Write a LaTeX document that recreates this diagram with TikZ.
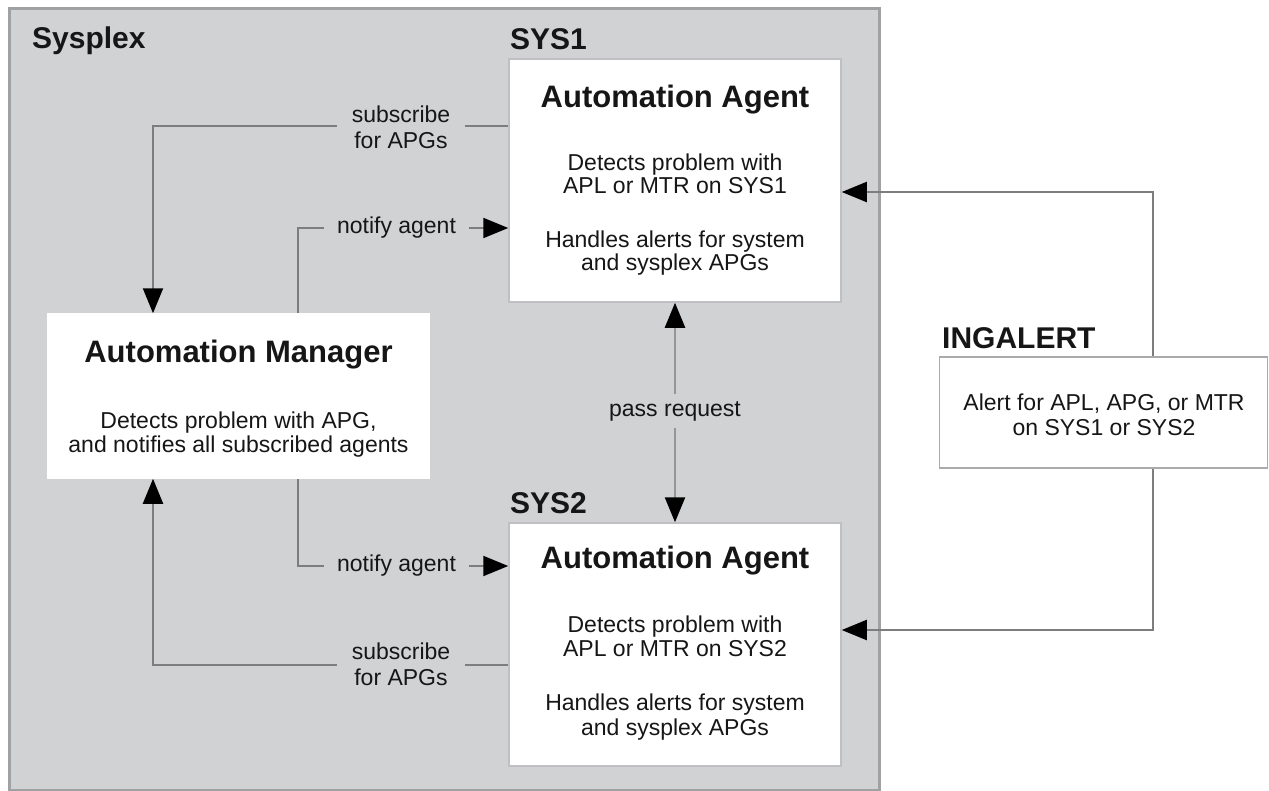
\documentclass[tikz,border=0pt]{standalone}
\usepackage{fontspec}
\setmainfont{Liberation Sans}
\usetikzlibrary{arrows.meta}
\definecolor{plexfill}{RGB}{209,210,212}
\definecolor{plexline}{RGB}{160,161,163}
\definecolor{conncol}{RGB}{125,125,125}
\definecolor{passcol}{RGB}{150,150,152}
\definecolor{txt}{RGB}{22,22,22}
\definecolor{boxline}{RGB}{192,192,194}
\definecolor{ingline}{RGB}{170,170,172}
\begin{document}
\begin{tikzpicture}[x=1pt,y=-1pt,
  >={Triangle[length=25pt,width=20pt,color=black]},
  box/.style={draw=boxline, line width=1.5pt, fill=white, inner sep=0pt},
  head/.style={font=\fontsize{30}{30}\selectfont\bfseries, text=txt, anchor=base west, inner sep=0pt},
  title/.style={font=\fontsize{31}{31}\selectfont\bfseries, text=txt, anchor=base, inner sep=0pt},
  body/.style={font=\fontsize{23}{25}\selectfont, text=txt, anchor=base, inner sep=0pt},
  conn/.style={draw=conncol, line width=2pt},
  lbl/.style={font=\fontsize{23}{26}\selectfont, text=txt, fill=plexfill, align=center, inner xsep=13pt, inner ysep=4pt}
]
\useasboundingbox (0,0) rectangle (1269,790);
\fill[white] (0,0) rectangle (1269,790);

% Sysplex container
\node[draw=plexline, line width=3pt, fill=plexfill, minimum width=870pt, minimum height=782pt,
      anchor=north west, inner sep=0pt] (plex) at (8,7) {};

% boxes
\node[box, minimum width=332pt, minimum height=243pt] (sys1) at (675,180.5) {};
\node[box, minimum width=332pt, minimum height=243pt] (sys2) at (675,644.5) {};
\node[box, draw=white, minimum width=381pt, minimum height=164pt] (am) at (238.5,396) {};
\node[box, draw=ingline, minimum width=328pt, minimum height=111pt] (ing) at (1103.5,412.5) {};

% helper coordinates
\coordinate (subx) at (153,0);
\coordinate (notx) at (298,0);
\coordinate (ingx) at (1153,0);
\coordinate (subtop) at (0,126);
\coordinate (nottop) at (0,228);
\coordinate (notbot) at (0,566);
\coordinate (subbot) at (0,665);
\coordinate (ingtop) at (0,192);
\coordinate (ingbot) at (0,630);

% connectors
\draw[conn,->] (sys1.west |- subtop) -| (am.north -| subx);
\draw[conn,->] (am.north -| notx) |- (sys1.west |- nottop);
\draw[conn,->] (am.south -| notx) |- (sys2.west |- notbot);
\draw[conn,->] (sys2.west |- subbot) -| (am.south -| subx);
\draw[draw=passcol, line width=2.5pt, <->] (sys1.south) -- (sys2.north);
\draw[conn,->] (ing.north -| ingx) |- (sys1.east |- ingtop);
\draw[conn,->] (ing.south -| ingx) |- (sys2.east |- ingbot);

% connector labels
\node[lbl, inner xsep=15pt] (sublbl1) at (401,127) {subscribe\\for APGs};
\node[lbl] (notlbl1) at (396.5,228) {notify agent};
\node[lbl] (notlbl2) at (396.5,566) {notify agent};
\node[lbl, inner xsep=15pt] (sublbl2) at (401,664) {subscribe\\for APGs};
\node[lbl, inner xsep=2pt, inner ysep=7pt] (passlbl) at (675,411) {pass request};

% headings
\node[head] (plexlbl) at (32,48) {Sysplex};
\node[head] (sys1lbl) at (510,49) {SYS1};
\node[head] (sys2lbl) at (510,513) {SYS2};
\node[head] (inglbl) at (942,348) {INGALERT};

% SYS1 text
\node[title] (s1t) at (675,107) {Automation Agent};
\node[body] (s1a) at (675,170) {Detects problem with};
\node[body] (s1b) at (675,193) {APL or MTR on SYS1};
\node[body] (s1c) at (675,247) {Handles alerts for system};
\node[body] (s1d) at (675,270) {and sysplex APGs};

% SYS2 text
\node[title] (s2t) at (675,568) {Automation Agent};
\node[body] (s2a) at (675,632) {Detects problem with};
\node[body] (s2b) at (675,656) {APL or MTR on SYS2};
\node[body] (s2c) at (675,710) {Handles alerts for system};
\node[body] (s2d) at (675,735) {and sysplex APGs};

% Automation Manager text
\node[title] (amt) at (238.5,362) {Automation Manager};
\node[body] (ama) at (238.5,428) {Detects problem with APG,};
\node[body] (amb) at (238.5,452) {and notifies all subscribed agents};

% INGALERT text
\node[body] (inga) at (1104,410) {Alert for APL, APG, or MTR};
\node[body] (ingb) at (1104,435) {on SYS1 or SYS2};
\end{tikzpicture}
\end{document}
